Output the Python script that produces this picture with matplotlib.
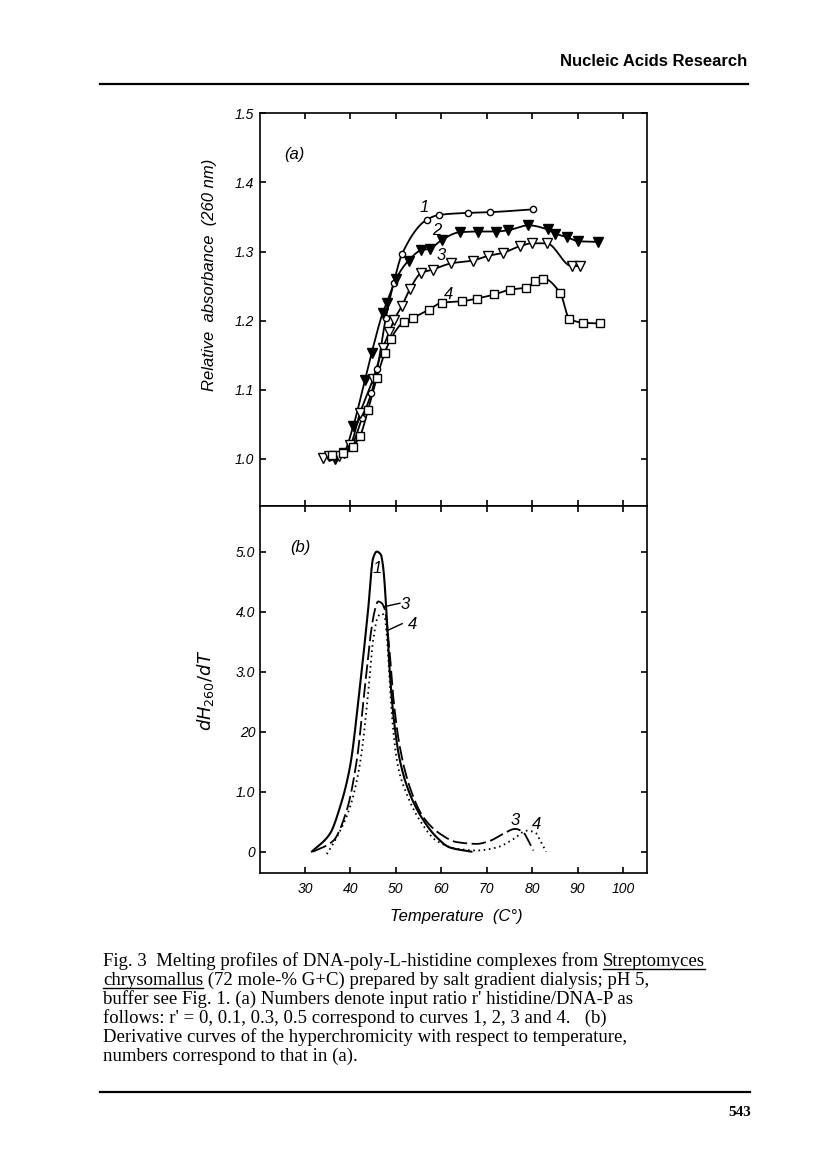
import numpy as np
import matplotlib
matplotlib.use("Agg")
import matplotlib.pyplot as plt
from matplotlib.lines import Line2D

# ---------------- data ----------------
# (a) relative absorbance (260 nm) vs temperature
c1_t = [35.5, 38.3, 40.3, 42.6, 44.6, 45.9, 47.8, 49.5, 51.4, 56.8, 59.5, 66.0, 70.7, 80.1]
c1_a = [1.003, 1.008, 1.020, 1.060, 1.095, 1.130, 1.204, 1.254, 1.297, 1.346, 1.353, 1.356, 1.357, 1.361]

c2_t = [36.6, 38.5, 40.6, 43.2, 44.7, 47.1, 48.0, 50.0, 52.8, 55.6, 57.5, 60.1, 64.1, 68.2,
        72.1, 74.8, 79.2, 83.4, 85.1, 87.6, 90.2, 94.6]
c2_a = [1.000, 1.008, 1.047, 1.114, 1.154, 1.211, 1.226, 1.260, 1.287, 1.302, 1.304, 1.317,
        1.328, 1.329, 1.329, 1.331, 1.338, 1.332, 1.326, 1.321, 1.315, 1.314]

c3_t = [34.0, 35.3, 37.5, 40.0, 42.1, 45.0, 47.1, 48.6, 49.6, 51.3, 53.1, 55.6, 58.1, 62.2,
        66.9, 70.4, 73.5, 77.4, 79.9, 83.2, 88.7, 90.6]
c3_a = [1.001, 1.004, 1.005, 1.020, 1.066, 1.116, 1.160, 1.184, 1.201, 1.221, 1.246, 1.269,
        1.274, 1.283, 1.287, 1.294, 1.298, 1.308, 1.312, 1.312, 1.279, 1.279]

c4_t = [35.9, 38.4, 40.5, 42.1, 43.9, 45.8, 47.6, 48.9, 51.7, 53.7, 57.3, 60.1, 64.5, 67.8,
        71.7, 75.2, 78.7, 80.7, 82.5, 86.2, 88.2, 91.3, 95.0]
c4_a = [1.006, 1.008, 1.018, 1.033, 1.071, 1.117, 1.154, 1.174, 1.198, 1.204, 1.216, 1.226,
        1.228, 1.232, 1.238, 1.245, 1.248, 1.257, 1.261, 1.240, 1.203, 1.197, 1.196]

# (b) derivative curves dH260/dT
d1_t = [31.5, 35.5, 37.7, 39.9, 42.1, 43.9, 45.0, 45.8, 46.7, 47.2, 48.0, 48.6, 49.5, 50.9,
        53.1, 56.1, 59.0, 61.9, 66.7]
d1_v = [0.00, 0.30, 0.74, 1.41, 2.75, 4.03, 4.89, 5.00, 4.95, 4.75, 3.92, 3.08, 2.25, 1.52,
        0.96, 0.52, 0.24, 0.07, 0.00]

d3_t = [31.8, 36.2, 39.2, 41.4, 43.2, 44.5, 45.4, 46.1, 46.9, 47.6, 48.6, 49.5, 50.9, 53.1,
        56.1, 59.7, 63.4, 67.8, 70.7, 73.7, 76.3, 78.1, 79.2, 80.3]
d3_v = [0.00, 0.18, 0.69, 1.52, 2.75, 3.64, 4.03, 4.17, 4.14, 4.03, 3.36, 2.53, 1.74, 1.07,
        0.57, 0.30, 0.16, 0.13, 0.18, 0.30, 0.38, 0.32, 0.18, 0.02]

d4_t = [34.8, 37.0, 39.9, 42.1, 43.9, 45.0, 46.1, 46.9, 47.6, 48.1, 48.7, 49.5, 50.5, 52.4,
        55.3, 59.0, 63.4, 67.8, 72.2, 75.9, 78.8, 80.7, 81.8, 83.1]
d4_v = [-0.04, 0.24, 0.74, 1.46, 2.63, 3.52, 3.92, 3.97, 3.89, 3.52, 2.75, 1.97, 1.41, 0.96,
        0.52, 0.18, 0.05, 0.02, 0.07, 0.21, 0.35, 0.32, 0.18, 0.00]

x_ticks = [30, 40, 50, 60, 70, 80, 90, 100]
a_ticks = [1.0, 1.1, 1.2, 1.3, 1.4, 1.5]
a_tick_labels = ["1.0", "1.1", "1.2", "1.3", "1.4", "1.5"]
b_ticks = [0, 1, 2, 3, 4, 5]
b_tick_labels = ["0", "1.0", "20", "3.0", "4.0", "5.0"]

caption_lines = [
    "Fig. 3  Melting profiles of DNA-poly-L-histidine complexes from ",
    " (72 mole-% G+C) prepared by salt gradient dialysis; pH 5,",
    "buffer see Fig. 1. (a) Numbers denote input ratio r' histidine/DNA-P as",
    "follows: r' = 0, 0.1, 0.3, 0.5 correspond to curves 1, 2, 3 and 4.   (b)",
    "Derivative curves of the hyperchromicity with respect to temperature,",
    "numbers correspond to that in (a).",
]


def pchip(x, y, xn):
    x = np.asarray(x, float)
    y = np.asarray(y, float)
    h = np.diff(x)
    d = np.diff(y) / h
    m = np.zeros_like(y)
    m[0] = d[0]
    m[-1] = d[-1]
    for k in range(1, len(x) - 1):
        if d[k - 1] * d[k] <= 0:
            m[k] = 0.0
        else:
            w1 = 2 * h[k] + h[k - 1]
            w2 = h[k] + 2 * h[k - 1]
            m[k] = (w1 + w2) / (w1 / d[k - 1] + w2 / d[k])
    idx = np.clip(np.searchsorted(x, xn) - 1, 0, len(x) - 2)
    hh = h[idx]
    t = (xn - x[idx]) / hh
    h00 = 2 * t**3 - 3 * t**2 + 1
    h10 = t**3 - 2 * t**2 + t
    h01 = -2 * t**3 + 3 * t**2
    h11 = t**3 - t**2
    return h00 * y[idx] + h10 * hh * m[idx] + h01 * y[idx + 1] + h11 * hh * m[idx + 1]


def smooth(x, y, n=400):
    xn = np.linspace(x[0], x[-1], n)
    return xn, pchip(x, y, xn)


W, H = 816, 1160
fig = plt.figure(figsize=(W / 100, H / 100), dpi=100)
fig.patch.set_facecolor("white")

tick_font = dict(family="Liberation Sans", style="italic", size=10)
label_font = dict(family="Liberation Sans", style="italic", size=12)

left_px, right_px = 260, 647
top_px, mid_px, bot_px = 113.3, 506, 873.3
axa = fig.add_axes([left_px / W, 1 - mid_px / H, (right_px - left_px) / W, (mid_px - top_px) / H])
axb = fig.add_axes([left_px / W, 1 - bot_px / H, (right_px - left_px) / W, (bot_px - mid_px) / H])

for ax in (axa, axb):
    ax.set_xlim(20.1, 105.3)
    ax.set_xticks(x_ticks)
    for s in ax.spines.values():
        s.set_linewidth(1.2)
    ax.tick_params(direction="in", length=4, width=1.2, top=True, right=True, bottom=True, left=True)

axa.set_ylim(0.932, 1.5)
axa.set_yticks(a_ticks)
axa.set_yticklabels(a_tick_labels, fontdict=tick_font)
axa.tick_params(labelbottom=False, pad=4)

axb.set_ylim(-0.36, 5.76)
axb.set_yticks(b_ticks)
axb.set_yticklabels(b_tick_labels, fontdict=tick_font)
axb.set_xticklabels([str(v) for v in x_ticks], fontdict=tick_font)
axb.tick_params(axis="x", pad=6)

# ---- panel (a) ----
lw = 1.3
series = [
    (c1_t, c1_a, dict(marker="o", ms=4.5, mfc="white", mec="black", mew=1.0)),
    (c2_t, c2_a, dict(marker="v", ms=7, mfc="black", mec="black", mew=1.0)),
    (c3_t, c3_a, dict(marker="v", ms=7, mfc="white", mec="black", mew=1.0)),
    (c4_t, c4_a, dict(marker="s", ms=5.5, mfc="white", mec="black", mew=1.0)),
]
for t, a, mk in series:
    xs, ys = smooth(t, a)
    axa.plot(xs, ys, color="black", lw=lw, zorder=2)
for t, a, mk in series:
    axa.plot(t, a, ls="none", zorder=3, **mk)

num_font = dict(family="Liberation Sans", style="italic", size=12)
axa.text(56.2, 1.364, "1", ha="center", va="center", **num_font)
axa.text(59.1, 1.330, "2", ha="center", va="center", **num_font)
axa.text(60.1, 1.294, "3", ha="center", va="center", **num_font)
axa.text(61.7, 1.238, "4", ha="center", va="center", **num_font)
axa.text(0.088, 0.894, "(a)", transform=axa.transAxes, ha="center", va="center", **num_font)

# ---- panel (b) ----
xs, ys = smooth(d1_t, d1_v)
axb.plot(xs, ys, color="black", lw=1.5, solid_capstyle="round")
xs, ys = smooth(d3_t, d3_v)
axb.plot(xs, ys, color="black", lw=1.3, dashes=(8, 2.5))
xs, ys = smooth(d4_t, d4_v)
axb.plot(xs, ys, color="black", lw=1.3, dashes=(0.9, 2.0))

axb.text(45.8, 4.72, "1", ha="center", va="center", **num_font)
axb.plot([47.3, 50.9], [4.08, 4.14], color="black", lw=1.0)
axb.text(52.0, 4.12, "3", ha="center", va="center", **num_font)
axb.plot([48.0, 51.4], [3.68, 3.80], color="black", lw=1.0)
axb.text(53.6, 3.78, "4", ha="center", va="center", **num_font)
axb.text(76.4, 0.52, "3", ha="center", va="center", **num_font)
axb.text(81.0, 0.46, "4", ha="center", va="center", **num_font)
axb.text(0.103, 0.888, "(b)", transform=axb.transAxes, ha="center", va="center", **num_font)

# axis labels
fig.text(210 / W, 1 - 275 / H, "Relative  absorbance  (260 nm)", rotation=90,
         ha="center", va="center", **label_font)
plt.rcParams["mathtext.fontset"] = "dejavusans"
fig.text(206 / W, 1 - 690 / H, r"$dH_{260}/dT$", rotation=90, ha="center", va="center", size=13)
fig.text(456 / W, 1 - 916 / H, "Temperature  (C°)", ha="center", va="center", **label_font)

# header
fig.text(747 / W, 1 - 62 / H, "Nucleic Acids Research", ha="right", va="center",
         family="Liberation Sans", weight="bold", size=12)
fig.add_artist(Line2D([100 / W, 748 / W], [1 - 83.5 / H, 1 - 83.5 / H], color="black", lw=1.6))

# caption
cap_font = dict(family="Liberation Serif", size=13.5)
y0 = 965.5
dy = 19.1
fig.canvas.draw()
renderer = fig.canvas.get_renderer()


def underline(bb, ybase):
    yy = ybase - 3
    fig.add_artist(Line2D([bb.x0 / W, bb.x1 / W], [yy / H, yy / H], color="black", lw=1.0))


for i, line in enumerate(caption_lines):
    ypix = H - (y0 + i * dy)
    yy = ypix / H
    if i == 0:
        t0 = fig.text(103 / W, yy, line, ha="left", va="baseline", **cap_font)
        bb = t0.get_window_extent(renderer)
        t1 = fig.text(bb.x1 / W, yy, "Streptomyces", ha="left", va="baseline", **cap_font)
        underline(t1.get_window_extent(renderer), ypix)
    elif i == 1:
        t1 = fig.text(103 / W, yy, "chrysomallus", ha="left", va="baseline", **cap_font)
        b1 = t1.get_window_extent(renderer)
        underline(b1, ypix)
        fig.text(b1.x1 / W, yy, line, ha="left", va="baseline", **cap_font)
    else:
        fig.text(103 / W, yy, line, ha="left", va="baseline", **cap_font)

# footer
fig.add_artist(Line2D([100 / W, 750 / W], [1 - 1092 / H, 1 - 1092 / H], color="black", lw=1.6))
fig.text(751 / W, 1 - 1112 / H, "543", ha="right", va="center", family="Liberation Serif",
         weight="bold", size=11)

fig.savefig("out.png", dpi=100, facecolor="white")
